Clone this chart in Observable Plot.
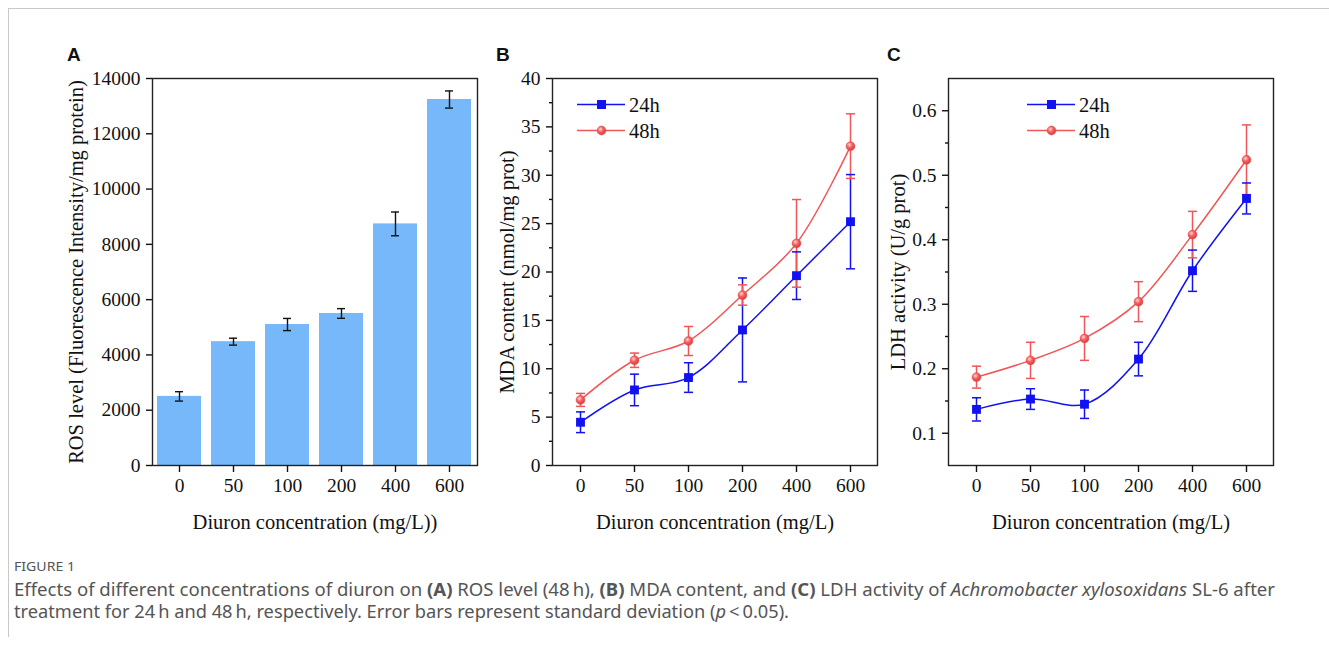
<!DOCTYPE html>
<html><head><meta charset="utf-8">
<script src="https://cdn.jsdelivr.net/npm/d3@7"></script>
<script src="https://cdn.jsdelivr.net/npm/@observablehq/plot@0.6"></script>
<style>
body{margin:0;background:#fff;}
#root{position:relative;width:1329px;height:646px;overflow:hidden;background:#fff;}
.panel{position:absolute;top:0;}
.letter{position:absolute;font:bold 19px "Liberation Sans",Arial,sans-serif;color:#111;line-height:1;}
#box{position:absolute;left:8px;top:8px;width:1330px;height:628px;border-top:1px solid #c8c8c8;border-left:1px solid #c8c8c8;}
.cap{position:absolute;left:14px;font-family:"Noto Sans","Open Sans",sans-serif;color:#555;white-space:nowrap;line-height:1;transform-origin:0 50%;}
#overlay{position:absolute;left:0;top:0;pointer-events:none;}
</style></head><body><div id="root"><div id="box"></div></div>
<script>
// ---------- data ----------
const concentrations = ["0", "50", "100", "200", "400", "600"];
const rosMean = [2500, 4480, 5100, 5500, 8740, 13240];
const rosSd = [170, 125, 220, 175, 430, 310];
const mda24 = [4.47, 7.81, 9.09, 14.01, 19.62, 25.2];
const mda24Sd = [1.07, 1.63, 1.53, 5.37, 2.46, 4.87];
const mda48 = [6.78, 10.88, 12.87, 17.62, 22.96, 33.01];
const mda48Sd = [0.67, 0.74, 1.5, 1.05, 4.53, 3.34];
const ldh24 = [0.137, 0.153, 0.145, 0.215, 0.352, 0.464];
const ldh24Sd = [0.018, 0.016, 0.022, 0.026, 0.032, 0.024];
const ldh48 = [0.187, 0.213, 0.247, 0.304, 0.408, 0.524];
const ldh48Sd = [0.017, 0.028, 0.034, 0.031, 0.036, 0.054];
const seriesNames = ["24h", "48h"];
const rosTicks = [0, 2000, 4000, 6000, 8000, 10000, 12000, 14000];
const mdaTicks = [0, 5, 10, 15, 20, 25, 30, 35, 40];
const mdaMinor = [2.5, 7.5, 12.5, 17.5, 22.5, 27.5, 32.5, 37.5];
const ldhTicks = [0.1, 0.2, 0.3, 0.4, 0.5, 0.6];
const ldhMinor = [0.15, 0.25, 0.35, 0.45, 0.55];
const panelLetters = ["A", "B", "C"];
const rosYLabel = "ROS level (Fluorescence Intensity/mg protein)";
const mdaYLabel = "MDA content (nmol/mg prot)";
const ldhYLabel = "LDH activity (U/g prot)";
const xLabelA = "Diuron concentration (mg/L))";
const xLabel = "Diuron concentration (mg/L)";

// ---------- style ----------
const blue = "#1111f2", red = "#f05656", barFill = "#77b8fa";
const serif = "'Liberation Serif','Times New Roman',serif";
const FS = 19.5, LFS = 20.5;
const H = 540, mT = 78, mB = 75;
const root = document.getElementById("root");

function place(svg, left) {
  const d = document.createElement("div");
  d.className = "panel"; d.style.left = left + "px";
  d.appendChild(svg); root.appendChild(d);
}
const capSymbol = {draw(ctx, size) { const r = Math.sqrt(size / Math.PI); ctx.moveTo(-r, 0); ctx.lineTo(r, 0); }};
const baseStyle = {fontFamily: serif, fontSize: FS + "px", color: "#111", background: "transparent", overflow: "visible"};

// ---------- Panel A ----------
const rosRows = concentrations.map((c, i) => ({c, v: rosMean[i], lo: rosMean[i] - rosSd[i], hi: rosMean[i] + rosSd[i]}));
const plotA = Plot.plot({
  width: 490, height: H, marginLeft: 152, marginRight: 13, marginTop: mT, marginBottom: mB,
  style: baseStyle,
  x: {type: "band", domain: concentrations, paddingInner: 0.18, paddingOuter: 0.09},
  y: {domain: [0, 14000], nice: false},
  marks: [
    Plot.barY(rosRows, {x: "c", y: "v", fill: barFill}),
    Plot.ruleX(rosRows, {x: "c", y1: "lo", y2: "hi", stroke: "#111", strokeWidth: 1.4}),
    Plot.tickY(rosRows, {x: "c", y: "lo", insetLeft: 18, insetRight: 18, stroke: "#111", strokeWidth: 1.4}),
    Plot.tickY(rosRows, {x: "c", y: "hi", insetLeft: 18, insetRight: 18, stroke: "#111", strokeWidth: 1.4}),
    Plot.frame({stroke: "#222", strokeWidth: 1.4}),
    Plot.axisY({ticks: rosTicks, tickSize: 6, tickPadding: 6, fontSize: FS, label: null, tickFormat: d => String(d), strokeWidth: 1.4}),
    Plot.axisX({tickSize: 7, tickPadding: 6, fontSize: FS, label: null, strokeWidth: 1.4}),
    Plot.text([rosYLabel], {frameAnchor: "left", dx: -76.5, rotate: -90, textAnchor: "middle", lineAnchor: "middle", fontSize: LFS, fill: "#111"}),
    Plot.text([xLabelA], {frameAnchor: "bottom", dy: 57, textAnchor: "middle", lineAnchor: "middle", fontSize: LFS, fill: "#111"})
  ]
});
place(plotA, 0);

// ---------- line panels ----------
function linePanel({width, mL, mR, yDomain, yTicks, yMinor, s24, e24, s48, e48, yLabel, yLabelOffset}) {
  const rows = [];
  concentrations.forEach((c, i) => rows.push({c, series: seriesNames[0], v: s24[i], lo: s24[i] - e24[i], hi: s24[i] + e24[i]}));
  concentrations.forEach((c, i) => rows.push({c, series: seriesNames[1], v: s48[i], lo: s48[i] - e48[i], hi: s48[i] + e48[i]}));
  const r24 = rows.filter(d => d.series === seriesNames[0]);
  const r48 = rows.filter(d => d.series === seriesNames[1]);
  return Plot.plot({
    width, height: H, marginLeft: mL, marginRight: mR, marginTop: mT, marginBottom: mB,
    style: baseStyle,
    x: {type: "point", domain: concentrations, padding: 0.5},
    y: {domain: yDomain, nice: false},
    color: {domain: seriesNames, range: [blue, red]},
    marks: [
      Plot.line(rows, {x: "c", y: "v", z: "series", stroke: "series", curve: "catmull-rom", strokeWidth: 1.5}),
      Plot.ruleX(rows, {x: "c", y1: "lo", y2: "hi", stroke: "series", strokeWidth: 1.5}),
      Plot.dot(rows, {x: "c", y: "lo", symbol: capSymbol, r: 4.5, stroke: "series", fill: "none", strokeWidth: 1.5}),
      Plot.dot(rows, {x: "c", y: "hi", symbol: capSymbol, r: 4.5, stroke: "series", fill: "none", strokeWidth: 1.5}),
      Plot.dot(r24, {x: "c", y: "v", symbol: "square", r: 5, fill: blue, stroke: "none"}),
      Plot.dot(r48, {x: "c", y: "v", symbol: "circle", r: 4.4, fill: "url(#ball)", stroke: "#e04444", strokeWidth: 0.6}),
      Plot.frame({stroke: "#222", strokeWidth: 1.4}),
      Plot.axisY({ticks: yTicks, tickSize: 6, tickPadding: 6, fontSize: FS, label: null, tickFormat: d => String(d), strokeWidth: 1.4}),
      Plot.axisY({ticks: yMinor, tickSize: 3, tickFormat: () => "", label: null, strokeWidth: 1.4}),
      Plot.axisX({tickSize: 7, tickPadding: 6, fontSize: FS, label: null, strokeWidth: 1.4}),
      Plot.text([yLabel], {frameAnchor: "left", dx: -yLabelOffset, rotate: -90, textAnchor: "middle", lineAnchor: "middle", fontSize: LFS, fill: "#111"}),
      Plot.text([xLabel], {frameAnchor: "bottom", dy: 57, textAnchor: "middle", lineAnchor: "middle", fontSize: LFS, fill: "#111"})
    ]
  });
}
place(linePanel({width: 400, mL: 62, mR: 13, yDomain: [0, 40], yTicks: mdaTicks, yMinor: mdaMinor,
  s24: mda24, e24: mda24Sd, s48: mda48, e48: mda48Sd, yLabel: mdaYLabel, yLabelOffset: 45}), 490);
place(linePanel({width: 400, mL: 58, mR: 17, yDomain: [0.05, 0.65], yTicks: ldhTicks, yMinor: ldhMinor,
  s24: ldh24, e24: ldh24Sd, s48: ldh48, e48: ldh48Sd, yLabel: ldhYLabel, yLabelOffset: 50.5}), 890);

// ---------- overlay: gradient + legends ----------
const ov = d3.select(root).append("svg").attr("id", "overlay").attr("width", 1329).attr("height", 646);
const g = ov.append("defs").append("radialGradient").attr("id", "ball").attr("cx", "0.38").attr("cy", "0.35").attr("r", "0.7");
g.append("stop").attr("offset", "0").attr("stop-color", "#ffd6d6");
g.append("stop").attr("offset", "0.45").attr("stop-color", "#f46060");
g.append("stop").attr("offset", "1").attr("stop-color", "#d83a3a");
[577, 1027].forEach(x0 => {
  const lg = ov.append("g").attr("transform", `translate(${x0},0)`);
  [[seriesNames[0], blue, 104.5], [seriesNames[1], red, 130.5]].forEach(([name, col, y], k) => {
    lg.append("line").attr("x1", 0).attr("x2", 48).attr("y1", y).attr("y2", y).attr("stroke", col).attr("stroke-width", 1.5);
    if (k === 0) lg.append("rect").attr("x", 20).attr("y", y - 4.5).attr("width", 9).attr("height", 9).attr("fill", col);
    else lg.append("circle").attr("cx", 24.5).attr("cy", y).attr("r", 4.4).attr("fill", "url(#ball)").attr("stroke", "#e04444").attr("stroke-width", 0.6);
    lg.append("text").attr("x", 52).attr("y", y).attr("dy", "0.35em").attr("font-family", serif).attr("font-size", LFS).attr("fill", "#111").text(name);
  });
});

// ---------- panel letters ----------
[[panelLetters[0], 67], [panelLetters[1], 496], [panelLetters[2], 887]].forEach(([t, x]) => {
  const d = document.createElement("div"); d.className = "letter"; d.textContent = t;
  d.style.left = x + "px"; d.style.top = "45px"; root.appendChild(d);
});

// ---------- caption ----------
function cap(html, top, size, targetWidth) {
  const d = document.createElement("div"); d.className = "cap"; d.innerHTML = html;
  d.style.top = top + "px"; d.style.fontSize = size + "px";
  root.appendChild(d);
  const s = targetWidth / d.getBoundingClientRect().width;
  d.style.transform = `scaleX(${s})`;
  return d;
}
cap("FIGURE 1", 561, 12.5, 61);
cap("Effects of different concentrations of diuron on <b>(A)</b> ROS level (48\u2009h), <b>(B)</b> MDA content, and <b>(C)</b> LDH activity of <i>Achromobacter xylosoxidans</i> SL-6 after", 581, 17.5, 1261);
cap("treatment for 24\u2009h and 48\u2009h, respectively. Error bars represent standard deviation (<i>p</i>\u2009&lt;\u20090.05).", 603, 17.5, 775);
</script></body></html>
